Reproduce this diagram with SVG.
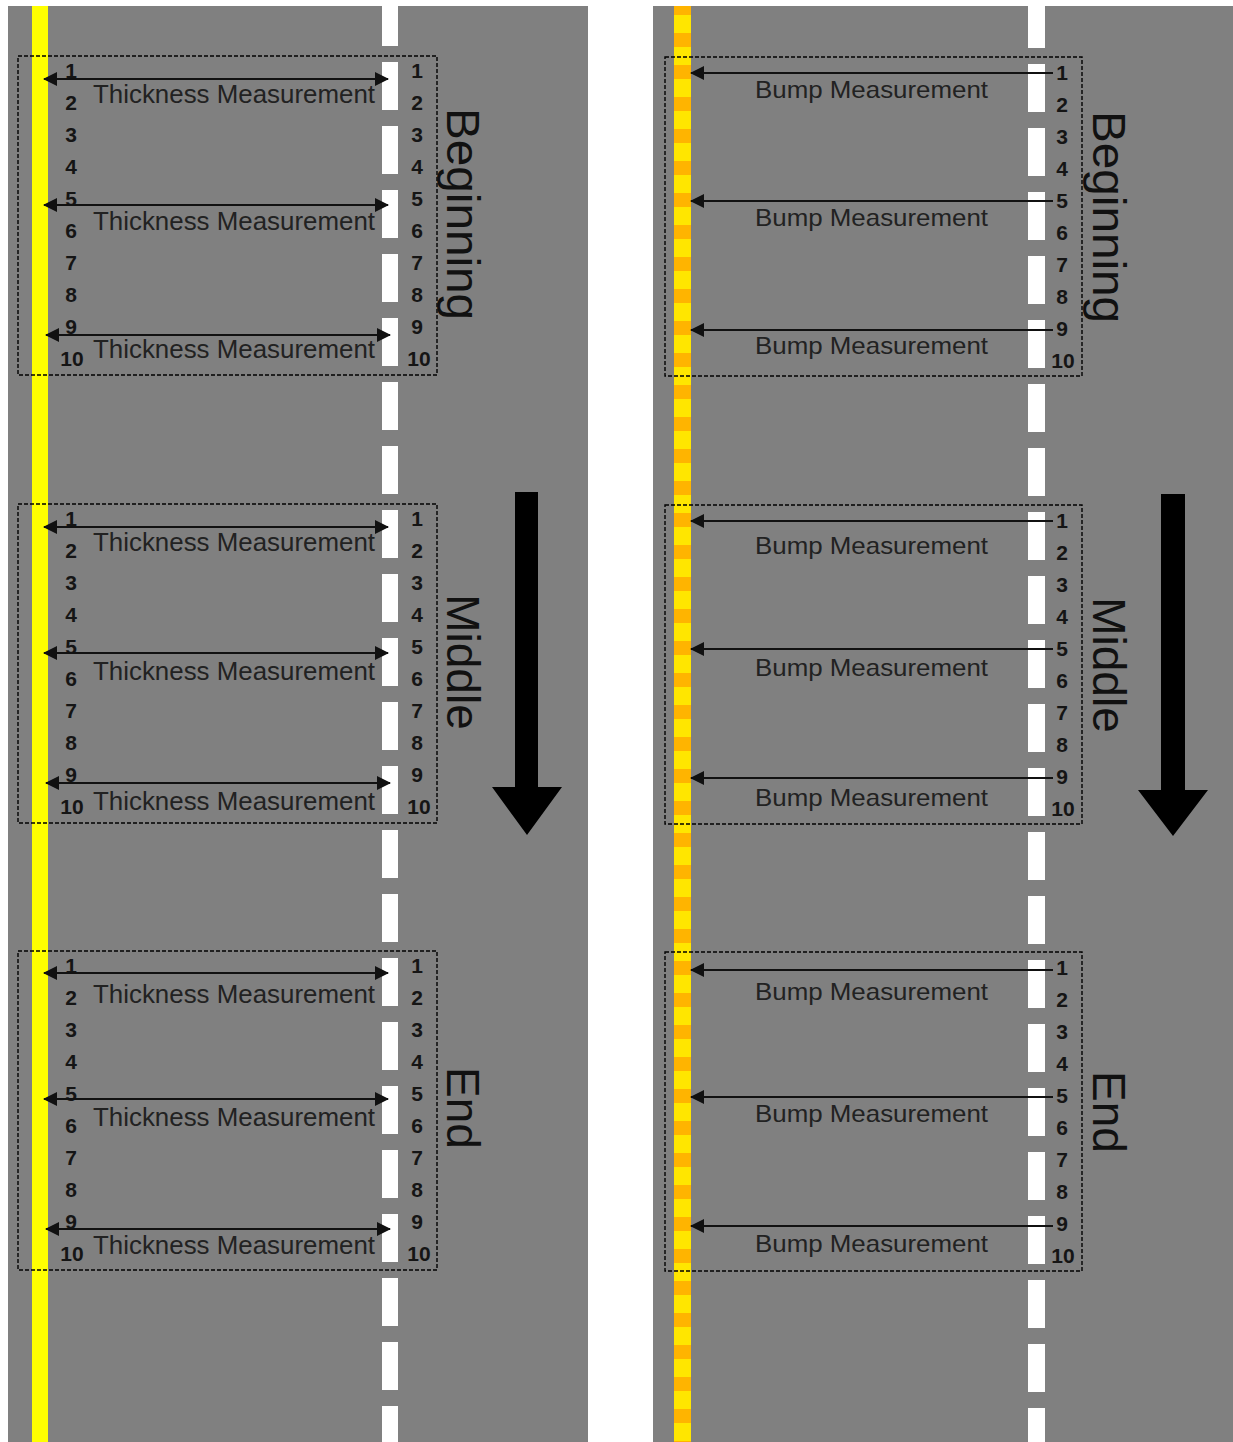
<svg xmlns="http://www.w3.org/2000/svg" width="1233" height="1442" viewBox="0 0 1233 1442">
<style>
.road{fill:#808080}
.dash{fill:#ffffff}
.box{fill:none;stroke:#000;stroke-width:1.4;stroke-dasharray:4 2}
.num{font-family:"Liberation Sans",Arial,sans-serif;font-weight:bold;font-size:21px;fill:#151515;text-anchor:middle}
.meas{font-family:"Liberation Sans",Arial,sans-serif;font-size:25px;fill:#222}
.bump{font-family:"Liberation Sans",Arial,sans-serif;font-size:24px;fill:#222}
.lab{font-family:"Liberation Sans",Arial,sans-serif;font-size:46px;fill:#111;text-anchor:middle}
.arr{stroke:#111;stroke-width:2;fill:none}
.big{fill:#000}
</style>
<defs>
<marker id="ah" viewBox="0 0 14 14" refX="13" refY="7" markerWidth="14" markerHeight="14" markerUnits="userSpaceOnUse" orient="auto-start-reverse">
<path d="M0,0 L14,7 L0,14 z" fill="#111"/>
</marker>
<pattern id="dashL" x="0" y="-2" width="20" height="64" patternUnits="userSpaceOnUse">
<rect x="0" y="0" width="20" height="48" fill="#fff"/>
</pattern>
<pattern id="dashR" x="0" y="0" width="20" height="64" patternUnits="userSpaceOnUse">
<rect x="0" y="0" width="20" height="48" fill="#fff"/>
</pattern>
<pattern id="rumble" x="0" y="1" width="20" height="32" patternUnits="userSpaceOnUse">
<rect x="0" y="0" width="20" height="32" fill="#ffe600"/>
<rect x="0" y="0" width="20" height="14" fill="#ffb400"/>
</pattern>
</defs>
<rect width="1233" height="1442" fill="#ffffff"/>

<g id="road-left">
<rect class="road" x="8" y="6" width="580" height="1436"/>
<rect x="32" y="6" width="16" height="1436" fill="#ffff00"/>
<rect x="382" y="6" width="16" height="1436" fill="url(#dashL)"/>
</g>
<g id="road-right">
<rect class="road" x="653" y="6" width="580" height="1436"/>
<rect x="674" y="6" width="17" height="1436" fill="url(#rumble)"/>
<rect x="1028" y="6" width="17" height="1436" fill="url(#dashR)"/>
</g>

<!-- Left blocks -->
<g id="left-beginning">
<rect class="box" x="18" y="56" width="419" height="319"/>
<text class="num" x="71" y="78">1</text><text class="num" x="71" y="110">2</text><text class="num" x="71" y="142">3</text><text class="num" x="71" y="174">4</text><text class="num" x="71" y="206">5</text><text class="num" x="71" y="238">6</text><text class="num" x="71" y="270">7</text><text class="num" x="71" y="302">8</text><text class="num" x="71" y="334">9</text><text class="num" x="72" y="366">10</text>
<text class="num" x="417" y="78">1</text><text class="num" x="417" y="110">2</text><text class="num" x="417" y="142">3</text><text class="num" x="417" y="174">4</text><text class="num" x="417" y="206">5</text><text class="num" x="417" y="238">6</text><text class="num" x="417" y="270">7</text><text class="num" x="417" y="302">8</text><text class="num" x="417" y="334">9</text><text class="num" x="419" y="366">10</text>
<text class="meas" x="93" y="103" textLength="282" lengthAdjust="spacingAndGlyphs">Thickness Measurement</text>
<text class="meas" x="93" y="230" textLength="282" lengthAdjust="spacingAndGlyphs">Thickness Measurement</text>
<text class="meas" x="93" y="358" textLength="282" lengthAdjust="spacingAndGlyphs">Thickness Measurement</text>
</g>
<g id="left-middle">
<rect class="box" x="18" y="504" width="419" height="319"/>
<text class="num" x="71" y="526">1</text><text class="num" x="71" y="558">2</text><text class="num" x="71" y="590">3</text><text class="num" x="71" y="622">4</text><text class="num" x="71" y="654">5</text><text class="num" x="71" y="686">6</text><text class="num" x="71" y="718">7</text><text class="num" x="71" y="750">8</text><text class="num" x="71" y="782">9</text><text class="num" x="72" y="814">10</text>
<text class="num" x="417" y="526">1</text><text class="num" x="417" y="558">2</text><text class="num" x="417" y="590">3</text><text class="num" x="417" y="622">4</text><text class="num" x="417" y="654">5</text><text class="num" x="417" y="686">6</text><text class="num" x="417" y="718">7</text><text class="num" x="417" y="750">8</text><text class="num" x="417" y="782">9</text><text class="num" x="419" y="814">10</text>
<text class="meas" x="93" y="551" textLength="282" lengthAdjust="spacingAndGlyphs">Thickness Measurement</text>
<text class="meas" x="93" y="680" textLength="282" lengthAdjust="spacingAndGlyphs">Thickness Measurement</text>
<text class="meas" x="93" y="810" textLength="282" lengthAdjust="spacingAndGlyphs">Thickness Measurement</text>
</g>
<g id="left-end">
<rect class="box" x="18" y="951" width="419" height="319"/>
<text class="num" x="71" y="973">1</text><text class="num" x="71" y="1005">2</text><text class="num" x="71" y="1037">3</text><text class="num" x="71" y="1069">4</text><text class="num" x="71" y="1101">5</text><text class="num" x="71" y="1133">6</text><text class="num" x="71" y="1165">7</text><text class="num" x="71" y="1197">8</text><text class="num" x="71" y="1229">9</text><text class="num" x="72" y="1261">10</text>
<text class="num" x="417" y="973">1</text><text class="num" x="417" y="1005">2</text><text class="num" x="417" y="1037">3</text><text class="num" x="417" y="1069">4</text><text class="num" x="417" y="1101">5</text><text class="num" x="417" y="1133">6</text><text class="num" x="417" y="1165">7</text><text class="num" x="417" y="1197">8</text><text class="num" x="417" y="1229">9</text><text class="num" x="419" y="1261">10</text>
<text class="meas" x="93" y="1003" textLength="282" lengthAdjust="spacingAndGlyphs">Thickness Measurement</text>
<text class="meas" x="93" y="1126" textLength="282" lengthAdjust="spacingAndGlyphs">Thickness Measurement</text>
<text class="meas" x="93" y="1254" textLength="282" lengthAdjust="spacingAndGlyphs">Thickness Measurement</text>
</g>

<!-- Right blocks -->
<g id="right-beginning">
<rect class="box" x="665" y="57" width="417" height="319"/>
<text class="num" x="1062" y="80">1</text><text class="num" x="1062" y="112">2</text><text class="num" x="1062" y="144">3</text><text class="num" x="1062" y="176">4</text><text class="num" x="1062" y="208">5</text><text class="num" x="1062" y="240">6</text><text class="num" x="1062" y="272">7</text><text class="num" x="1062" y="304">8</text><text class="num" x="1062" y="336">9</text><text class="num" x="1063" y="368">10</text>
<text class="bump" x="755" y="98" textLength="233" lengthAdjust="spacingAndGlyphs">Bump Measurement</text>
<text class="bump" x="755" y="226" textLength="233" lengthAdjust="spacingAndGlyphs">Bump Measurement</text>
<text class="bump" x="755" y="354" textLength="233" lengthAdjust="spacingAndGlyphs">Bump Measurement</text>
</g>
<g id="right-middle">
<rect class="box" x="665" y="505" width="417" height="319"/>
<text class="num" x="1062" y="528">1</text><text class="num" x="1062" y="560">2</text><text class="num" x="1062" y="592">3</text><text class="num" x="1062" y="624">4</text><text class="num" x="1062" y="656">5</text><text class="num" x="1062" y="688">6</text><text class="num" x="1062" y="720">7</text><text class="num" x="1062" y="752">8</text><text class="num" x="1062" y="784">9</text><text class="num" x="1063" y="816">10</text>
<text class="bump" x="755" y="554" textLength="233" lengthAdjust="spacingAndGlyphs">Bump Measurement</text>
<text class="bump" x="755" y="676" textLength="233" lengthAdjust="spacingAndGlyphs">Bump Measurement</text>
<text class="bump" x="755" y="806" textLength="233" lengthAdjust="spacingAndGlyphs">Bump Measurement</text>
</g>
<g id="right-end">
<rect class="box" x="665" y="952" width="417" height="319"/>
<text class="num" x="1062" y="975">1</text><text class="num" x="1062" y="1007">2</text><text class="num" x="1062" y="1039">3</text><text class="num" x="1062" y="1071">4</text><text class="num" x="1062" y="1103">5</text><text class="num" x="1062" y="1135">6</text><text class="num" x="1062" y="1167">7</text><text class="num" x="1062" y="1199">8</text><text class="num" x="1062" y="1231">9</text><text class="num" x="1063" y="1263">10</text>
<text class="bump" x="755" y="1000" textLength="233" lengthAdjust="spacingAndGlyphs">Bump Measurement</text>
<text class="bump" x="755" y="1122" textLength="233" lengthAdjust="spacingAndGlyphs">Bump Measurement</text>
<text class="bump" x="755" y="1252" textLength="233" lengthAdjust="spacingAndGlyphs">Bump Measurement</text>
</g>

<!-- Section labels -->
<g id="labels">
<text class="lab" transform="translate(447,214) rotate(90)" textLength="212" lengthAdjust="spacingAndGlyphs">Beginning</text>
<text class="lab" transform="translate(447,662) rotate(90)">Middle</text>
<text class="lab" transform="translate(447,1108) rotate(90)">End</text>
<text class="lab" transform="translate(1093,217) rotate(90)" textLength="212" lengthAdjust="spacingAndGlyphs">Beginning</text>
<text class="lab" transform="translate(1093,665) rotate(90)">Middle</text>
<text class="lab" transform="translate(1093,1112) rotate(90)">End</text>
</g>

<!-- Direction arrows -->
<g id="direction-left">
<polygon class="big" points="515,492 538,492 538,787 562,787 527,835 492,787 515,787"/>
</g>
<g id="direction-right">
<polygon class="big" points="1161,494 1185,494 1185,790 1208,790 1173,836 1138,790 1161,790"/>
</g>

<g id="connectors">
<line class="arr" x1="44" y1="79" x2="388" y2="79" marker-start="url(#ah)" marker-end="url(#ah)"/>
<line class="arr" x1="44" y1="205" x2="388" y2="205" marker-start="url(#ah)" marker-end="url(#ah)"/>
<line class="arr" x1="46" y1="335" x2="390" y2="335" marker-start="url(#ah)" marker-end="url(#ah)"/>
<line class="arr" x1="44" y1="527" x2="388" y2="527" marker-start="url(#ah)" marker-end="url(#ah)"/>
<line class="arr" x1="44" y1="653" x2="388" y2="653" marker-start="url(#ah)" marker-end="url(#ah)"/>
<line class="arr" x1="46" y1="783" x2="390" y2="783" marker-start="url(#ah)" marker-end="url(#ah)"/>
<line class="arr" x1="44" y1="973" x2="388" y2="973" marker-start="url(#ah)" marker-end="url(#ah)"/>
<line class="arr" x1="44" y1="1099" x2="388" y2="1099" marker-start="url(#ah)" marker-end="url(#ah)"/>
<line class="arr" x1="46" y1="1229" x2="390" y2="1229" marker-start="url(#ah)" marker-end="url(#ah)"/>
<line class="arr" x1="1053" y1="73" x2="691" y2="73" marker-end="url(#ah)"/>
<line class="arr" x1="1053" y1="201" x2="691" y2="201" marker-end="url(#ah)"/>
<line class="arr" x1="1053" y1="330" x2="691" y2="330" marker-end="url(#ah)"/>
<line class="arr" x1="1053" y1="521" x2="691" y2="521" marker-end="url(#ah)"/>
<line class="arr" x1="1053" y1="649" x2="691" y2="649" marker-end="url(#ah)"/>
<line class="arr" x1="1053" y1="778" x2="691" y2="778" marker-end="url(#ah)"/>
<line class="arr" x1="1053" y1="970" x2="691" y2="970" marker-end="url(#ah)"/>
<line class="arr" x1="1053" y1="1097" x2="691" y2="1097" marker-end="url(#ah)"/>
<line class="arr" x1="1053" y1="1226" x2="691" y2="1226" marker-end="url(#ah)"/>
</g>
</svg>
